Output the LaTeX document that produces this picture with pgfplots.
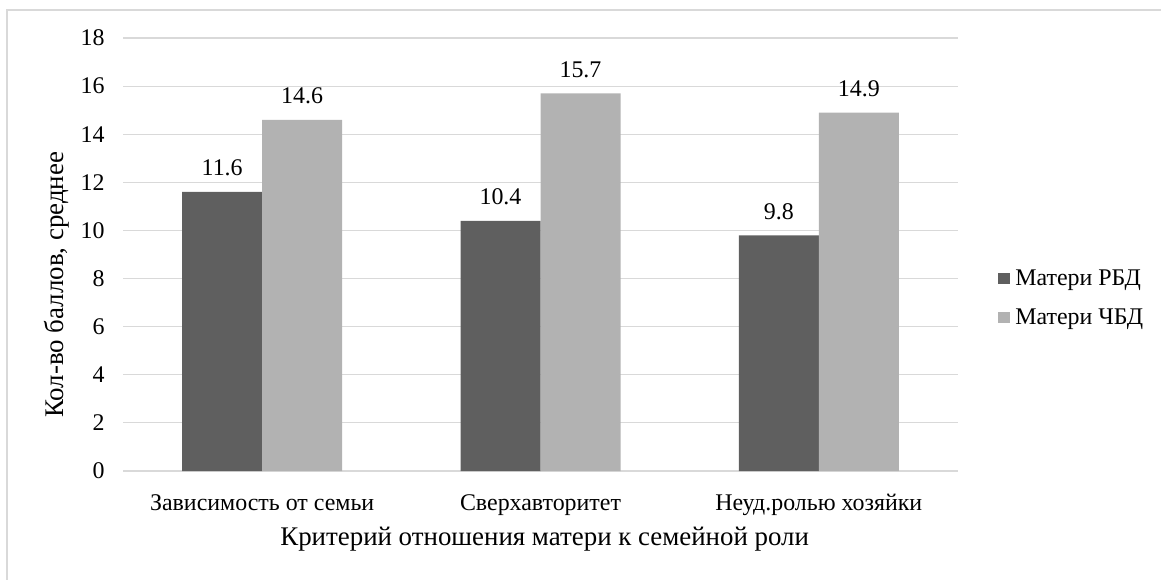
\documentclass[border=0pt]{standalone}
\usepackage{fontspec}
\setmainfont{Liberation Serif}
\usepackage{pgfplots}
\pgfplotsset{compat=1.18}
\definecolor{darkbar}{HTML}{5F5F5F}
\definecolor{lightbar}{HTML}{B2B2B2}
\definecolor{gridc}{HTML}{D9D9D9}
\definecolor{framec}{HTML}{D9D9D9}
\begin{document}
\begin{tikzpicture}
\useasboundingbox (0,0) rectangle (1161bp,-580bp);
\draw[framec, line width=1.2bp] (7bp,-580bp) -- (7bp,-10bp) -- (1161bp,-10bp);
\begin{axis}[
  at={(123bp,-471bp)}, anchor=south west,
  scale only axis, width=835bp, height=433bp,
  ymin=0, ymax=18, ytick={0,2,...,18},
  xmin=-0.5, xmax=2.5, xtick={0,1,2},
  xticklabels={Зависимость от семьи, Сверхавторитет, Неуд.ролью хозяйки},
  axis line style={draw=none},
  ymajorgrids, grid style={gridc, line width=1.2bp},
  major tick length=0pt,
  /pgf/number format/assume math mode=true,
  tick label style={font=\fontsize{24}{28}\selectfont, black},
  yticklabel style={anchor=east, xshift=-15bp},
  xticklabel style={anchor=base, yshift=-39bp},
  ybar=0pt, bar width=80bp,
  nodes near coords,
  nodes near coords style={font=\fontsize{24}{28}\selectfont, black, anchor=base, yshift=16bp,
    /pgf/number format/.cd, fixed, precision=1, fixed zerofill, assume math mode=true},
  xlabel={Критерий отношения матери к семейной роли},
  ylabel={Кол-во баллов, среднее},
  label style={font=\fontsize{27}{30}\selectfont},
  xlabel style={at={(axis description cs:0.505,-0.157)}, anchor=center},
  ylabel style={at={(axis description cs:-0.079,0.43)}, anchor=center, rotate=0},
  legend style={at={(1.0475,0.40)}, anchor=west, draw=none, fill=none,
    font=\fontsize{24}{26}\selectfont, row sep=19bp, inner sep=0pt,
    nodes={inner sep=1.5bp}},
  legend cell align=left,
  legend image code/.code={\fill[#1] (0bp,-6bp) rectangle (12bp,5bp); \path (16bp,0bp);},
  clip=false,
]
\addplot[fill=darkbar, draw=none] coordinates {(0,11.6) (1,10.4) (2,9.8)};
\addplot[fill=lightbar, draw=none] coordinates {(0,14.6) (1,15.7) (2,14.9)};
\legend{Матери РБД, Матери ЧБД}
\end{axis}
\end{tikzpicture}
\end{document}
